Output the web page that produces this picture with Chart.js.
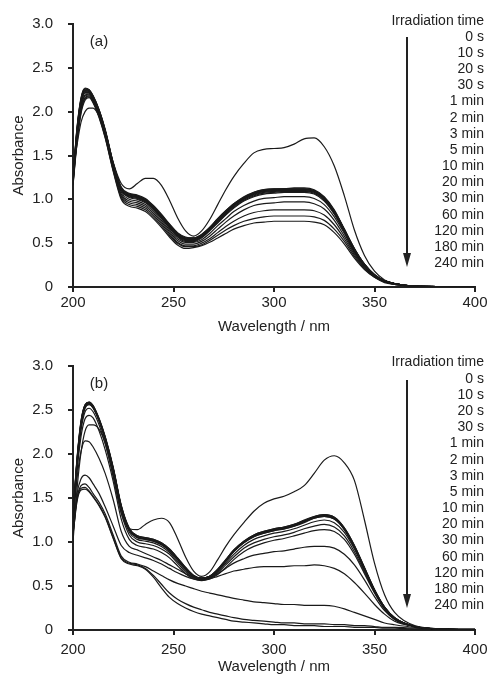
<!DOCTYPE html>
<html>
<head>
<meta charset="utf-8">
<style>
  html, body { margin: 0; padding: 0; background: #fff; }
  #wrapA { position: absolute; left: 0; top: 0; width: 488px; height: 340px; }
  #wrapB { position: absolute; left: 0; top: 340px; width: 488px; height: 336px; }
</style>
<script src="https://cdn.jsdelivr.net/npm/chart.js@4.4.1/dist/chart.umd.min.js"></script>
</head>
<body>
<div id="wrapA"><canvas id="chartA"></canvas></div>
<div id="wrapB"><canvas id="chartB"></canvas></div>
<script>
// wavelength grid (nm)
const wavelengths = [200, 202, 204, 206, 208, 210, 213, 216, 220, 224, 228, 232, 236, 240, 244, 248, 252, 256, 260, 264, 268, 272, 276, 280, 285, 290, 295, 300, 305, 310, 315, 320, 325, 330, 335, 340, 345, 350, 355, 360, 370, 385, 400];
const timeLabels = ['0 s', '10 s', '20 s', '30 s', '1 min', '2 min', '3 min', '5 min', '10 min', '20 min', '30 min', '60 min', '120 min', '180 min', '240 min'];
const xTicks = [200, 250, 300, 350, 400];
const yTicks = [0, 0.5, 1.0, 1.5, 2.0, 2.5, 3.0];

// panel (a)
const a0s   = [1.30, 1.62, 1.88, 2.00, 2.04, 2.04, 1.95, 1.78, 1.42, 1.18, 1.12, 1.18, 1.24, 1.24, 1.16, 0.99, 0.79, 0.64, 0.58, 0.64, 0.77, 0.94, 1.11, 1.26, 1.41, 1.53, 1.57, 1.58, 1.59, 1.63, 1.69, 1.70, 1.60, 1.38, 1.04, 0.65, 0.36, 0.18, 0.08, 0.04, 0.01, 0.005, 0];
const a10s  = [1.25, 1.82, 2.16, 2.27, 2.25, 2.18, 2.02, 1.80, 1.42, 1.14, 1.07, 1.05, 1.01, 0.93, 0.83, 0.72, 0.62, 0.57, 0.56, 0.60, 0.68, 0.78, 0.87, 0.95, 1.03, 1.08, 1.11, 1.12, 1.12, 1.13, 1.13, 1.11, 1.03, 0.88, 0.66, 0.44, 0.26, 0.14, 0.07, 0.04, 0.01, 0.005, 0];
const a20s  = [1.24, 1.81, 2.15, 2.26, 2.25, 2.18, 2.02, 1.79, 1.41, 1.13, 1.06, 1.04, 1.00, 0.92, 0.82, 0.71, 0.61, 0.56, 0.56, 0.60, 0.68, 0.78, 0.87, 0.95, 1.02, 1.08, 1.11, 1.12, 1.12, 1.12, 1.12, 1.10, 1.02, 0.87, 0.66, 0.44, 0.26, 0.14, 0.07, 0.04, 0.01, 0.005, 0];
const a30s  = [1.24, 1.80, 2.14, 2.26, 2.24, 2.17, 2.01, 1.79, 1.41, 1.13, 1.06, 1.04, 1.00, 0.92, 0.82, 0.71, 0.61, 0.56, 0.55, 0.59, 0.67, 0.77, 0.86, 0.94, 1.02, 1.07, 1.10, 1.11, 1.12, 1.12, 1.12, 1.10, 1.02, 0.87, 0.65, 0.43, 0.26, 0.14, 0.07, 0.04, 0.01, 0.005, 0];
const a1m   = [1.23, 1.79, 2.13, 2.25, 2.24, 2.17, 2.01, 1.78, 1.40, 1.12, 1.05, 1.03, 0.99, 0.91, 0.81, 0.70, 0.60, 0.55, 0.55, 0.59, 0.67, 0.77, 0.86, 0.94, 1.01, 1.07, 1.10, 1.11, 1.11, 1.11, 1.11, 1.09, 1.01, 0.86, 0.65, 0.43, 0.26, 0.14, 0.07, 0.04, 0.01, 0.005, 0];
const a2m   = [1.23, 1.78, 2.12, 2.24, 2.23, 2.16, 2.00, 1.78, 1.40, 1.12, 1.05, 1.03, 0.99, 0.91, 0.81, 0.70, 0.60, 0.55, 0.54, 0.58, 0.66, 0.76, 0.85, 0.93, 1.01, 1.06, 1.09, 1.10, 1.11, 1.11, 1.11, 1.09, 1.01, 0.86, 0.65, 0.43, 0.25, 0.14, 0.07, 0.04, 0.01, 0.005, 0];
const a3m   = [1.22, 1.77, 2.11, 2.24, 2.23, 2.16, 2.00, 1.77, 1.39, 1.11, 1.04, 1.02, 0.98, 0.90, 0.80, 0.69, 0.59, 0.54, 0.54, 0.58, 0.66, 0.76, 0.85, 0.93, 1.00, 1.06, 1.09, 1.10, 1.10, 1.10, 1.10, 1.08, 1.00, 0.85, 0.64, 0.42, 0.25, 0.13, 0.07, 0.04, 0.01, 0.005, 0];
const a5m   = [1.22, 1.76, 2.10, 2.23, 2.22, 2.15, 1.99, 1.77, 1.39, 1.11, 1.04, 1.02, 0.98, 0.90, 0.80, 0.69, 0.59, 0.54, 0.53, 0.57, 0.65, 0.75, 0.84, 0.92, 1.00, 1.05, 1.08, 1.09, 1.10, 1.10, 1.10, 1.08, 1.00, 0.85, 0.64, 0.42, 0.25, 0.13, 0.07, 0.04, 0.01, 0.005, 0];
const a10m  = [1.21, 1.75, 2.09, 2.22, 2.22, 2.15, 1.99, 1.76, 1.38, 1.10, 1.03, 1.01, 0.97, 0.89, 0.79, 0.68, 0.58, 0.53, 0.53, 0.57, 0.65, 0.74, 0.83, 0.91, 0.99, 1.04, 1.07, 1.08, 1.09, 1.09, 1.09, 1.07, 0.99, 0.84, 0.63, 0.42, 0.25, 0.13, 0.07, 0.04, 0.01, 0.005, 0];
const a20m  = [1.21, 1.74, 2.08, 2.21, 2.21, 2.14, 1.98, 1.76, 1.38, 1.10, 1.02, 1.00, 0.96, 0.88, 0.78, 0.67, 0.57, 0.52, 0.52, 0.56, 0.64, 0.73, 0.82, 0.90, 0.98, 1.03, 1.06, 1.07, 1.08, 1.08, 1.08, 1.06, 0.98, 0.83, 0.63, 0.41, 0.25, 0.13, 0.07, 0.04, 0.01, 0.005, 0];
const a30m  = [1.20, 1.72, 2.06, 2.19, 2.20, 2.14, 1.97, 1.75, 1.37, 1.08, 1.00, 0.98, 0.94, 0.86, 0.76, 0.65, 0.55, 0.51, 0.51, 0.54, 0.61, 0.70, 0.78, 0.86, 0.93, 0.98, 1.01, 1.02, 1.03, 1.03, 1.03, 1.01, 0.94, 0.80, 0.61, 0.40, 0.24, 0.13, 0.07, 0.04, 0.01, 0.005, 0];
const a60m  = [1.19, 1.70, 2.04, 2.18, 2.19, 2.13, 1.96, 1.74, 1.36, 1.06, 0.98, 0.96, 0.92, 0.84, 0.74, 0.63, 0.53, 0.49, 0.49, 0.52, 0.58, 0.66, 0.74, 0.81, 0.88, 0.93, 0.95, 0.96, 0.97, 0.97, 0.97, 0.95, 0.89, 0.76, 0.58, 0.39, 0.23, 0.12, 0.06, 0.03, 0.01, 0.005, 0];
const a120m = [1.18, 1.68, 2.02, 2.16, 2.18, 2.12, 1.95, 1.72, 1.34, 1.04, 0.96, 0.94, 0.90, 0.82, 0.72, 0.61, 0.51, 0.47, 0.47, 0.50, 0.55, 0.62, 0.69, 0.75, 0.81, 0.85, 0.87, 0.88, 0.88, 0.88, 0.88, 0.87, 0.82, 0.71, 0.55, 0.37, 0.22, 0.12, 0.06, 0.03, 0.01, 0.005, 0];
const a180m = [1.17, 1.66, 2.00, 2.15, 2.17, 2.11, 1.94, 1.71, 1.33, 1.02, 0.94, 0.92, 0.88, 0.80, 0.70, 0.59, 0.50, 0.46, 0.46, 0.48, 0.53, 0.59, 0.65, 0.70, 0.75, 0.78, 0.80, 0.81, 0.81, 0.81, 0.81, 0.80, 0.76, 0.66, 0.52, 0.35, 0.21, 0.11, 0.06, 0.03, 0.01, 0.005, 0];
const a240m = [1.16, 1.64, 1.98, 2.13, 2.16, 2.10, 1.93, 1.70, 1.32, 1.00, 0.92, 0.90, 0.86, 0.78, 0.68, 0.57, 0.48, 0.44, 0.45, 0.47, 0.51, 0.56, 0.61, 0.66, 0.70, 0.73, 0.74, 0.75, 0.75, 0.75, 0.75, 0.74, 0.71, 0.62, 0.49, 0.33, 0.20, 0.11, 0.05, 0.03, 0.01, 0.005, 0];

// panel (b)
const b0s   = [1.00, 1.60, 2.02, 2.26, 2.33, 2.33, 2.28, 2.12, 1.74, 1.33, 1.15, 1.14, 1.20, 1.25, 1.27, 1.22, 1.04, 0.83, 0.67, 0.61, 0.66, 0.80, 0.95, 1.08, 1.22, 1.35, 1.44, 1.49, 1.52, 1.57, 1.64, 1.78, 1.93, 1.98, 1.90, 1.70, 1.25, 0.76, 0.40, 0.20, 0.05, 0.01, 0];
const b10s  = [1.30, 1.95, 2.38, 2.56, 2.59, 2.55, 2.40, 2.20, 1.85, 1.42, 1.16, 1.07, 1.05, 1.03, 0.99, 0.92, 0.82, 0.71, 0.62, 0.59, 0.61, 0.69, 0.80, 0.91, 1.01, 1.08, 1.12, 1.15, 1.17, 1.20, 1.25, 1.29, 1.31, 1.28, 1.16, 0.96, 0.71, 0.46, 0.26, 0.14, 0.04, 0.01, 0];
const b20s  = [1.30, 1.94, 2.37, 2.56, 2.59, 2.55, 2.40, 2.19, 1.84, 1.41, 1.15, 1.07, 1.05, 1.03, 0.99, 0.92, 0.82, 0.71, 0.62, 0.59, 0.61, 0.69, 0.80, 0.91, 1.01, 1.08, 1.12, 1.15, 1.17, 1.20, 1.24, 1.29, 1.31, 1.28, 1.16, 0.96, 0.71, 0.46, 0.26, 0.14, 0.04, 0.01, 0];
const b30s  = [1.29, 1.93, 2.36, 2.55, 2.58, 2.54, 2.39, 2.19, 1.84, 1.41, 1.15, 1.06, 1.04, 1.02, 0.98, 0.91, 0.81, 0.70, 0.62, 0.59, 0.61, 0.68, 0.79, 0.90, 1.00, 1.07, 1.11, 1.14, 1.16, 1.19, 1.24, 1.28, 1.30, 1.27, 1.15, 0.95, 0.70, 0.45, 0.26, 0.14, 0.04, 0.01, 0];
const b1m   = [1.29, 1.92, 2.35, 2.55, 2.58, 2.54, 2.39, 2.18, 1.83, 1.40, 1.14, 1.06, 1.04, 1.02, 0.98, 0.91, 0.81, 0.70, 0.61, 0.59, 0.61, 0.68, 0.79, 0.90, 1.00, 1.07, 1.11, 1.14, 1.16, 1.19, 1.23, 1.28, 1.30, 1.27, 1.15, 0.95, 0.70, 0.45, 0.26, 0.14, 0.04, 0.01, 0];
const b2m   = [1.28, 1.91, 2.34, 2.54, 2.57, 2.53, 2.38, 2.18, 1.83, 1.40, 1.14, 1.05, 1.03, 1.01, 0.97, 0.90, 0.80, 0.70, 0.61, 0.58, 0.60, 0.68, 0.78, 0.89, 0.99, 1.06, 1.10, 1.13, 1.15, 1.18, 1.23, 1.27, 1.29, 1.26, 1.14, 0.94, 0.70, 0.45, 0.25, 0.13, 0.04, 0.01, 0];
const b3m   = [1.28, 1.90, 2.33, 2.53, 2.57, 2.53, 2.38, 2.17, 1.82, 1.39, 1.13, 1.05, 1.03, 1.01, 0.97, 0.90, 0.80, 0.69, 0.61, 0.58, 0.60, 0.67, 0.78, 0.89, 0.99, 1.06, 1.10, 1.13, 1.15, 1.18, 1.22, 1.27, 1.29, 1.26, 1.14, 0.94, 0.69, 0.45, 0.25, 0.13, 0.04, 0.01, 0];
const b5m   = [1.27, 1.88, 2.31, 2.52, 2.56, 2.52, 2.37, 2.16, 1.80, 1.37, 1.11, 1.03, 1.01, 0.99, 0.95, 0.88, 0.78, 0.68, 0.60, 0.58, 0.60, 0.66, 0.76, 0.86, 0.96, 1.03, 1.07, 1.10, 1.12, 1.15, 1.19, 1.23, 1.25, 1.22, 1.11, 0.92, 0.68, 0.44, 0.25, 0.13, 0.04, 0.01, 0];
const b10m  = [1.25, 1.85, 2.27, 2.48, 2.52, 2.48, 2.33, 2.12, 1.76, 1.33, 1.08, 1.00, 0.98, 0.96, 0.92, 0.86, 0.76, 0.66, 0.59, 0.57, 0.59, 0.65, 0.74, 0.83, 0.93, 0.99, 1.03, 1.06, 1.08, 1.11, 1.15, 1.18, 1.20, 1.17, 1.07, 0.89, 0.66, 0.43, 0.24, 0.13, 0.04, 0.01, 0];
const b20m  = [1.23, 1.80, 2.20, 2.40, 2.44, 2.41, 2.26, 2.05, 1.69, 1.26, 1.03, 0.96, 0.94, 0.92, 0.88, 0.82, 0.73, 0.64, 0.58, 0.56, 0.58, 0.63, 0.71, 0.80, 0.89, 0.95, 0.99, 1.02, 1.04, 1.07, 1.10, 1.13, 1.14, 1.12, 1.03, 0.86, 0.64, 0.42, 0.24, 0.12, 0.04, 0.01, 0];
const b30m  = [1.18, 1.72, 2.03, 2.15, 2.14, 2.08, 1.95, 1.78, 1.48, 1.12, 0.95, 0.91, 0.87, 0.83, 0.79, 0.74, 0.69, 0.64, 0.60, 0.58, 0.59, 0.64, 0.70, 0.76, 0.81, 0.85, 0.87, 0.89, 0.90, 0.92, 0.94, 0.95, 0.95, 0.93, 0.86, 0.74, 0.57, 0.38, 0.22, 0.12, 0.04, 0.01, 0];
const b60m  = [1.12, 1.55, 1.72, 1.76, 1.73, 1.66, 1.55, 1.40, 1.18, 0.96, 0.88, 0.85, 0.82, 0.79, 0.75, 0.70, 0.65, 0.61, 0.58, 0.57, 0.58, 0.61, 0.64, 0.67, 0.69, 0.71, 0.72, 0.72, 0.72, 0.73, 0.73, 0.74, 0.73, 0.70, 0.64, 0.54, 0.42, 0.29, 0.18, 0.10, 0.04, 0.01, 0];
const b120m = [1.10, 1.50, 1.64, 1.66, 1.62, 1.55, 1.45, 1.32, 1.08, 0.84, 0.77, 0.75, 0.72, 0.67, 0.62, 0.57, 0.53, 0.50, 0.47, 0.44, 0.42, 0.40, 0.38, 0.36, 0.34, 0.32, 0.31, 0.30, 0.29, 0.29, 0.28, 0.28, 0.28, 0.27, 0.24, 0.20, 0.16, 0.12, 0.08, 0.06, 0.03, 0.01, 0];
const b180m = [1.09, 1.48, 1.61, 1.62, 1.58, 1.52, 1.42, 1.29, 1.05, 0.82, 0.76, 0.74, 0.70, 0.62, 0.52, 0.42, 0.35, 0.30, 0.26, 0.23, 0.20, 0.18, 0.16, 0.14, 0.12, 0.11, 0.10, 0.09, 0.08, 0.08, 0.07, 0.07, 0.07, 0.06, 0.06, 0.05, 0.05, 0.04, 0.03, 0.03, 0.02, 0.01, 0.01];
const b240m = [1.08, 1.46, 1.59, 1.60, 1.57, 1.51, 1.41, 1.28, 1.04, 0.81, 0.75, 0.73, 0.69, 0.60, 0.48, 0.37, 0.30, 0.25, 0.21, 0.18, 0.16, 0.14, 0.12, 0.10, 0.09, 0.08, 0.07, 0.06, 0.06, 0.05, 0.05, 0.05, 0.04, 0.04, 0.04, 0.03, 0.03, 0.03, 0.02, 0.02, 0.01, 0.01, 0.01];

const seriesA = [a0s, a10s, a20s, a30s, a1m, a2m, a3m, a5m, a10m, a20m, a30m, a60m, a120m, a180m, a240m];
const seriesB = [b0s, b10s, b20s, b30s, b1m, b2m, b3m, b5m, b10m, b20m, b30m, b60m, b120m, b180m, b240m];

const FONT = '"Liberation Sans", Arial, sans-serif';
const INK = '#222';

// legend text, arrow and panel letter, drawn on top of the chart
function overlay(geo) {
    return {
        id: 'overlay',
        afterDraw(chart) {
            const ctx = chart.ctx;
            ctx.save();
            ctx.fillStyle = INK;
            ctx.strokeStyle = INK;
            ctx.font = '14px ' + FONT;
            ctx.textAlign = 'right';
            ctx.textBaseline = 'middle';
            ctx.fillText('Irradiation time', 484, geo.headY);
            timeLabels.forEach((t, i) => {
                ctx.fillText(t, 484, geo.firstY + i * 16.15);
            });

            // arrow
            ctx.lineWidth = 2;
            ctx.beginPath();
            ctx.moveTo(407, geo.arrowTop);
            ctx.lineTo(407, geo.arrowBottom - 10);
            ctx.stroke();
            ctx.beginPath();
            ctx.moveTo(403, geo.arrowBottom - 14);
            ctx.lineTo(411, geo.arrowBottom - 14);
            ctx.lineTo(407, geo.arrowBottom);
            ctx.closePath();
            ctx.fill();

            ctx.font = '15px ' + FONT;
            ctx.textAlign = 'center';
            ctx.fillText(geo.label, 99, geo.labelY);
            ctx.restore();
        }
    };
}

function makePanel(canvasId, series, geo) {
    const ctx = document.getElementById(canvasId).getContext('2d');
    const datasets = series.map((vals, k) => ({
        label: timeLabels[k],
        data: wavelengths.map((w, i) => ({ x: w, y: vals[i] })),
        borderColor: '#1a1a1a',
        borderWidth: 1.2,
        pointRadius: 0,
        fill: false,
        cubicInterpolationMode: 'monotone'
    }));

    return new Chart(ctx, {
        type: 'line',
        data: { datasets: datasets },
        options: {
            responsive: true,
            maintainAspectRatio: false,
            animation: false,
            devicePixelRatio: 1,
            layout: { padding: { left: 0, right: 13, top: geo.top, bottom: 0 } },
            plugins: { legend: { display: false }, tooltip: { enabled: false } },
            scales: {
                x: {
                    type: 'linear',
                    min: xTicks[0],
                    max: xTicks[xTicks.length - 1],
                    afterBuildTicks: (s) => { s.ticks = xTicks.map(v => ({ value: v })); },
                    afterFit: (s) => { s.height = geo.xHeight; s.paddingLeft = 0; s.paddingRight = 0; },
                    ticks: { color: INK, font: { family: FONT, size: 15 }, padding: geo.xPad, maxRotation: 0 },
                    grid: { drawOnChartArea: false, drawTicks: true, tickLength: 5, color: INK, lineWidth: 2 },
                    border: { color: INK, width: 2 },
                    title: { display: true, text: 'Wavelength / nm', color: INK, font: { family: FONT, size: 15 }, padding: { top: 0, bottom: geo.titlePad } }
                },
                y: {
                    min: 0,
                    max: 3,
                    afterBuildTicks: (s) => { s.ticks = yTicks.map(v => ({ value: v })); },
                    afterFit: (s) => { s.width = 73; s.paddingTop = 0; s.paddingBottom = 0; },
                    ticks: {
                        color: INK, font: { family: FONT, size: 15 }, padding: 15,
                        callback: (v) => v === 0 ? '0' : v.toFixed(1)
                    },
                    grid: { drawOnChartArea: false, drawTicks: true, tickLength: 5, color: INK, lineWidth: 2 },
                    border: { color: INK, width: 2 },
                    title: { display: true, text: 'Absorbance', color: INK, font: { family: FONT, size: 15 }, padding: { top: 10, bottom: 0 } }
                }
            }
        },
        plugins: [overlay(geo)]
    });
}

makePanel('chartA', seriesA, { label: '(a)', top: 24, xHeight: 53, xPad: 2, titlePad: 4, headY: 21, firstY: 37, arrowTop: 37, arrowBottom: 267, labelY: 42 });
makePanel('chartB', seriesB, { label: '(b)', top: 26, xHeight: 46, xPad: 6, titlePad: 0, headY: 22, firstY: 39, arrowTop: 40, arrowBottom: 268, labelY: 44 });
</script>
</body>
</html>
